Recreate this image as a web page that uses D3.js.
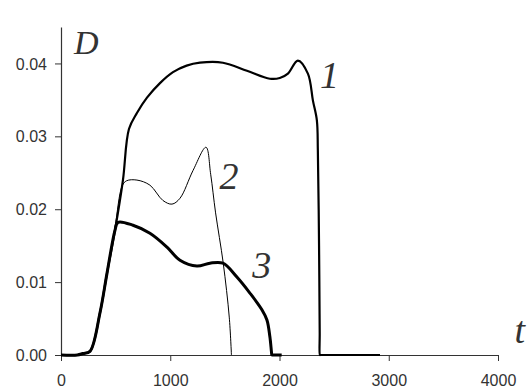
<!DOCTYPE html>
<html>
<head>
<meta charset="utf-8">
<script src="https://cdn.jsdelivr.net/npm/d3@7"></script>
<style>
  body{margin:0;background:#fff}
  svg{display:block}
  .tick text{font-family:'Liberation Sans',Arial,sans-serif;font-size:16px;fill:#333}
  .serif{font-family:'Liberation Serif','DejaVu Serif',serif;font-style:italic;fill:#333}
</style>
</head>
<body>
<svg id="chart" width="528" height="391"></svg>
<script>
// values: [t, D]
const curve1 = [[0,0],[150,0],[200,0.0002],[265,0.0005],[357,0.0058],[421,0.0112],[494,0.0171],[567,0.024],[622,0.031],
  [695,0.0332],[787,0.0353],[906,0.0373],[1025,0.0388],[1150,0.0397],[1272,0.0401],[1482,0.0401],[1702,0.039],
  [1912,0.0379],[2003,0.038],[2077,0.0386],[2168,0.0404],[2260,0.0386],[2306,0.0349],[2342,0.0322],[2351,0.0281],
  [2362,0.015],[2368,0.003],[2370,0],[2374,0],[2400,0],[2920,0]]
const curve2 = [[0,0],[150,0],[200,0.0002],[265,0.0005],[357,0.0058],[421,0.0112],[494,0.0175],[560,0.0232],[600,0.0239],
  [695,0.024],[814,0.0233],[933,0.0212],[1016,0.0207],[1089,0.0215],[1208,0.0253],[1327,0.0285],[1370,0.0248],
  [1415,0.0195],[1485,0.0126],[1540,0.0052],[1560,0]]
const curve3 = [[0,0],[150,0],[200,0.0002],[265,0.0005],[357,0.0058],[421,0.0112],[494,0.0171],[522,0.0182],[659,0.0178],
  [814,0.0167],[970,0.0148],[1089,0.013],[1244,0.0122],[1363,0.0126],[1482,0.0126],[1610,0.0107],[1729,0.0085],
  [1839,0.0062],[1885,0.0048],[1912,0.0025],[1926,0.0005],[1930,0],[1936,0],[2020,0]]
const xTicks = [0,1000,2000,3000,4000]
const yTicks = [0,0.01,0.02,0.03,0.04]
const curveLabels = ['1','2','3']

const svg=d3.select('#chart')
const x=d3.scaleLinear().domain([0,4000]).range([61,498])
const y=d3.scaleLinear().domain([0,0.045]).range([355,27])

const xAxis=svg.append('g')
  .attr('transform','translate(0,355)')
  .call(d3.axisBottom(x).tickValues(xTicks).tickFormat(d3.format('d')).tickSize(6).tickSizeOuter(0))
const yAxis=svg.append('g')
  .attr('transform','translate(61,0)')
  .call(d3.axisLeft(y).tickValues(yTicks).tickFormat(d3.format('.2f')).tickSize(6).tickSizeOuter(0))

;[xAxis,yAxis].forEach(ax=>{
  ax.attr('font-family',null).attr('font-size',null)
  ax.select('.domain').attr('stroke','#333').attr('stroke-width',1.2)
  ax.selectAll('.tick line').attr('stroke','#333')
  ax.selectAll('text').attr('fill',null)
})
xAxis.selectAll('text').attr('dy',null).attr('y',31)
yAxis.selectAll('text').attr('x',-14).attr('dy','0.35em')

// centripetal catmull-rom keeps the peaks pointed but smooths the rest
const line=d3.line().x(d=>x(d[0])).y(d=>y(d[1])).curve(d3.curveCatmullRom.alpha(0.5))

svg.append('path').datum(curve2).attr('d',line)
  .attr('fill','none').attr('stroke','#000').attr('stroke-width',1)
svg.append('path').datum(curve1).attr('d',line)
  .attr('fill','none').attr('stroke','#000').attr('stroke-width',2.2).attr('stroke-linejoin','round')
svg.append('path').datum(curve3).attr('d',line)
  .attr('fill','none').attr('stroke','#000').attr('stroke-width',3).attr('stroke-linejoin','round')

// axis names
svg.append('text').attr('class','serif').attr('x',x(120)).attr('y',y(0.0413))
  .attr('font-size',34).text('D')
svg.append('text').attr('class','serif').attr('x',x(4150)).attr('y',y(0.0017))
  .attr('font-size',38).text('t')

// curve numbers
const labelPos=[[2370,0.0366],[1450,0.0228],[1750,0.0105]]
svg.selectAll('.num').data(curveLabels).enter().append('text')
  .attr('class','num serif')
  .attr('x',(d,i)=>x(labelPos[i][0]))
  .attr('y',(d,i)=>y(labelPos[i][1]))
  .attr('font-size',38)
  .text(d=>d)
</script>
</body>
</html>
